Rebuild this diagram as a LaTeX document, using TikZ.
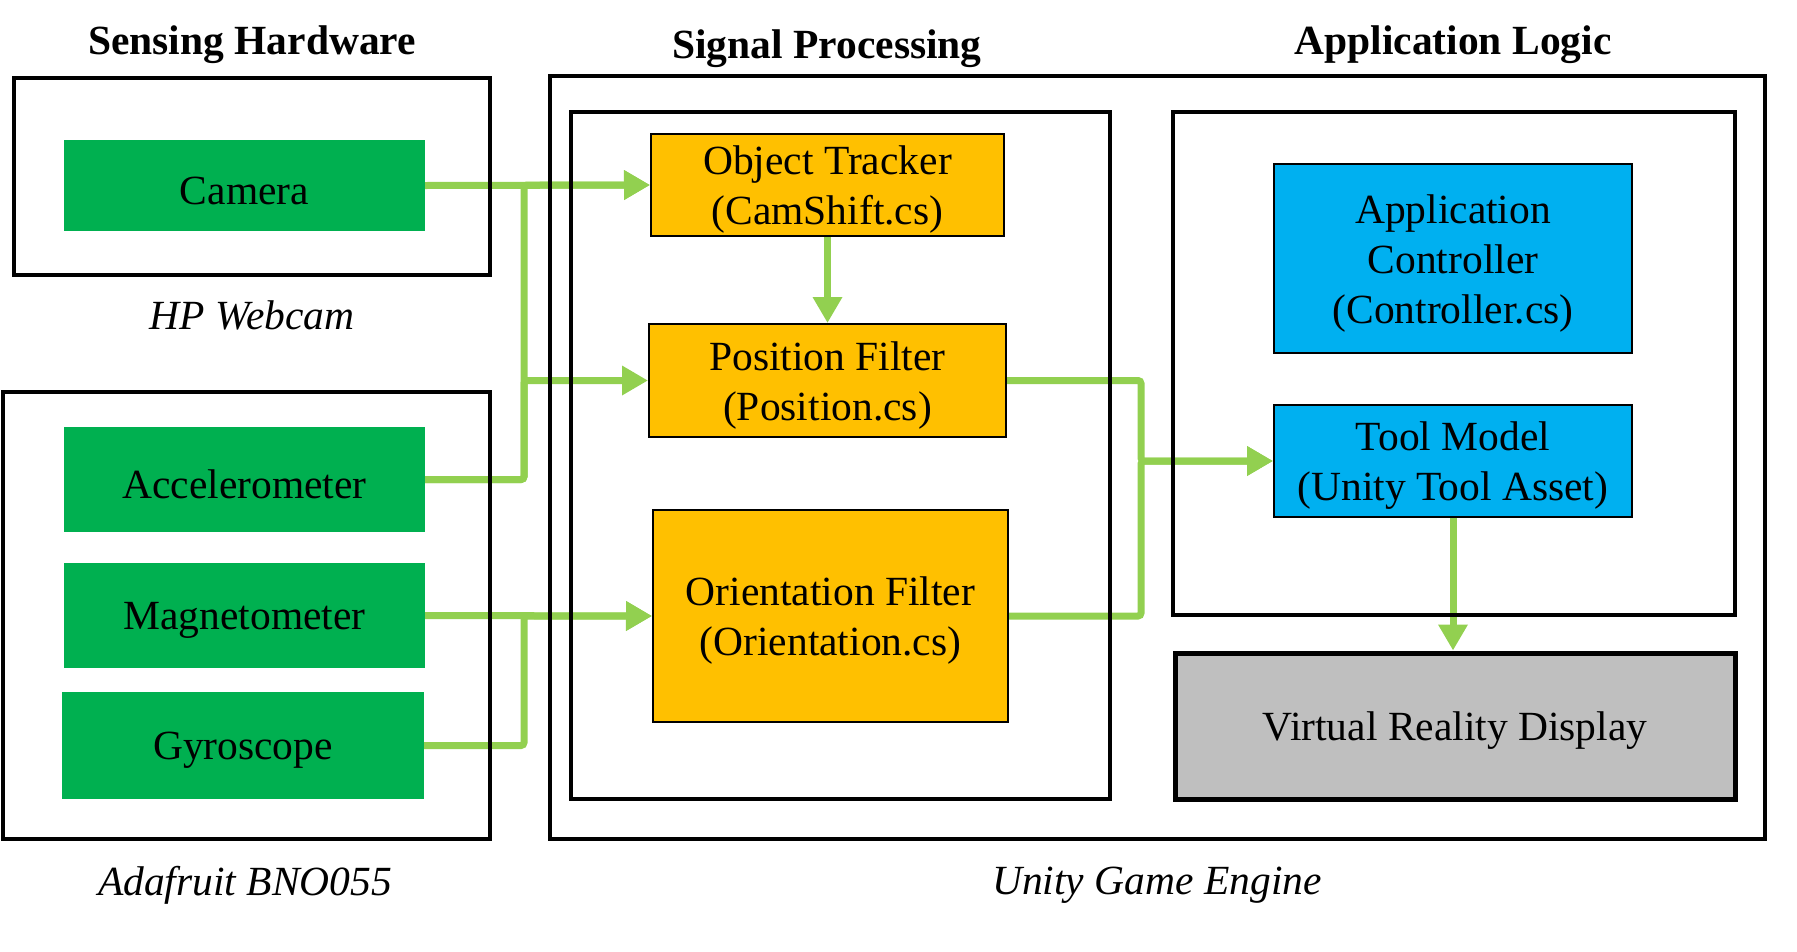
\documentclass[tikz,border=0pt]{standalone}
\usepackage{fontspec}
\setmainfont{Liberation Serif}
\usetikzlibrary{arrows.meta,calc}
\definecolor{sgreen}{HTML}{00B050}
\definecolor{sorange}{HTML}{FFC000}
\definecolor{sblue}{HTML}{00B0F0}
\definecolor{sline}{HTML}{92D050}
\definecolor{sgray}{HTML}{BFBFBF}
\pgfdeclarelayer{background}
\pgfsetlayers{background,main}
\begin{document}
\begin{tikzpicture}[x=1pt,y=-1pt,
  every node/.style={font=\fontsize{41.5}{50}\selectfont, inner sep=0pt, align=center},
  hw/.style={fill=sgreen, draw=none},
  proc/.style={fill=sorange, draw=black, line width=2pt},
  app/.style={fill=sblue, draw=black, line width=2pt},
  vrbox/.style={fill=sgray, draw=black, line width=5pt},
  container/.style={draw=black, line width=4pt, fill=none},
  title/.style={font=\fontsize{41.5}{50}\selectfont\bfseries},
  caption/.style={font=\fontsize{41.5}{50}\selectfont\itshape},
  txt/.style={yshift=-5pt},
  conn/.style={draw=sline, line width=7pt, rounded corners=3pt},
  arr/.style={conn, -{Triangle[length=26pt,width=28pt]}}
]
\useasboundingbox (0,0) rectangle (1797,951);

% titles
\node[title] (t1) at (252,45) {Sensing Hardware};
\node[title] (t2) at (827,49) {Signal Processing};
\node[title] (t3) at (1453,45) {Application Logic};

% containers
\node[container, minimum width=476pt, minimum height=197pt] (webcam) at (252,176.5) {};
\node[container, minimum width=487pt, minimum height=447pt] (bno) at (246.5,615.5) {};
\node[container, minimum width=1215pt, minimum height=763pt] (unity) at (1157.5,457.5) {};
\node[container, minimum width=539pt, minimum height=687pt] (sigbox) at (840.5,455.5) {};
\node[container, minimum width=562pt, minimum height=503pt] (appbox) at (1454,363.5) {};

% captions
\node[caption] (c1) at (252,315) {HP Webcam};
\node[caption] (c2) at (245,885) {Adafruit BNO055};
\node[caption] (c3) at (1157,885) {Unity Game Engine};

% hardware
\node[hw, minimum width=361pt, minimum height=91pt, label={[txt]center:Camera}] (cam) at (244.5,185.5) {};
\node[hw, minimum width=361pt, minimum height=105pt, label={[txt]center:Accelerometer}] (acc) at (244.5,479.5) {};
\node[hw, minimum width=361pt, minimum height=105pt, label={[txt]center:Magnetometer}] (mag) at (244.5,615.5) {};
\node[hw, minimum width=362pt, minimum height=107pt, label={[txt]center:Gyroscope}] (gyr) at (243,745.5) {};

% processing
\node[proc, minimum width=353pt, minimum height=102pt, label={[txt]center:Object Tracker\\(CamShift.cs)}] (obj) at (827.5,185) {};
\node[proc, minimum width=357pt, minimum height=113pt, label={[txt]center:Position Filter\\(Position.cs)}] (pos) at (827.5,380.5) {};
\node[proc, minimum width=355pt, minimum height=212pt, label={[txt]center:Orientation Filter\\(Orientation.cs)}] (ori) at (830.5,616) {};

% application
\node[app, minimum width=358pt, minimum height=189pt, label={[txt]center:Application\\Controller\\(Controller.cs)}] (ctrl) at (1453,258.5) {};
\node[app, minimum width=358pt, minimum height=112pt, label={[txt]center:Tool Model\\(Unity Tool Asset)}] (tool) at (1453,461) {};
\node[vrbox, minimum width=560pt, minimum height=146pt, label={[txt]center:Virtual Reality Display}] (vr) at (1455,726) {};

% trunk coordinates
\coordinate (tr) at (524,0);
\coordinate (tr2) at (1141,0);

\begin{pgfonlayer}{background}
\draw[arr] (cam.east) -- (obj.west);
\draw[arr] (acc.east) -| (tr |- obj.west) -- (obj.west);
\draw[arr] (acc.east) -| (tr |- pos.west) -- (pos.west);
\draw[arr] (mag.east) -- (ori.west);
\draw[arr] (gyr.east) -| (tr |- ori.west) -- (ori.west);
\draw[arr] (obj.south) -- (pos.north);
\draw[arr] (pos.east) -| (tr2 |- tool.west) -- (tool.west);
\draw[arr] (ori.east) -| (tr2 |- tool.west) -- (tool.west);
\draw[arr] (tool.south) -- (tool.south |- vr.north);
\end{pgfonlayer}
\end{tikzpicture}
\end{document}
